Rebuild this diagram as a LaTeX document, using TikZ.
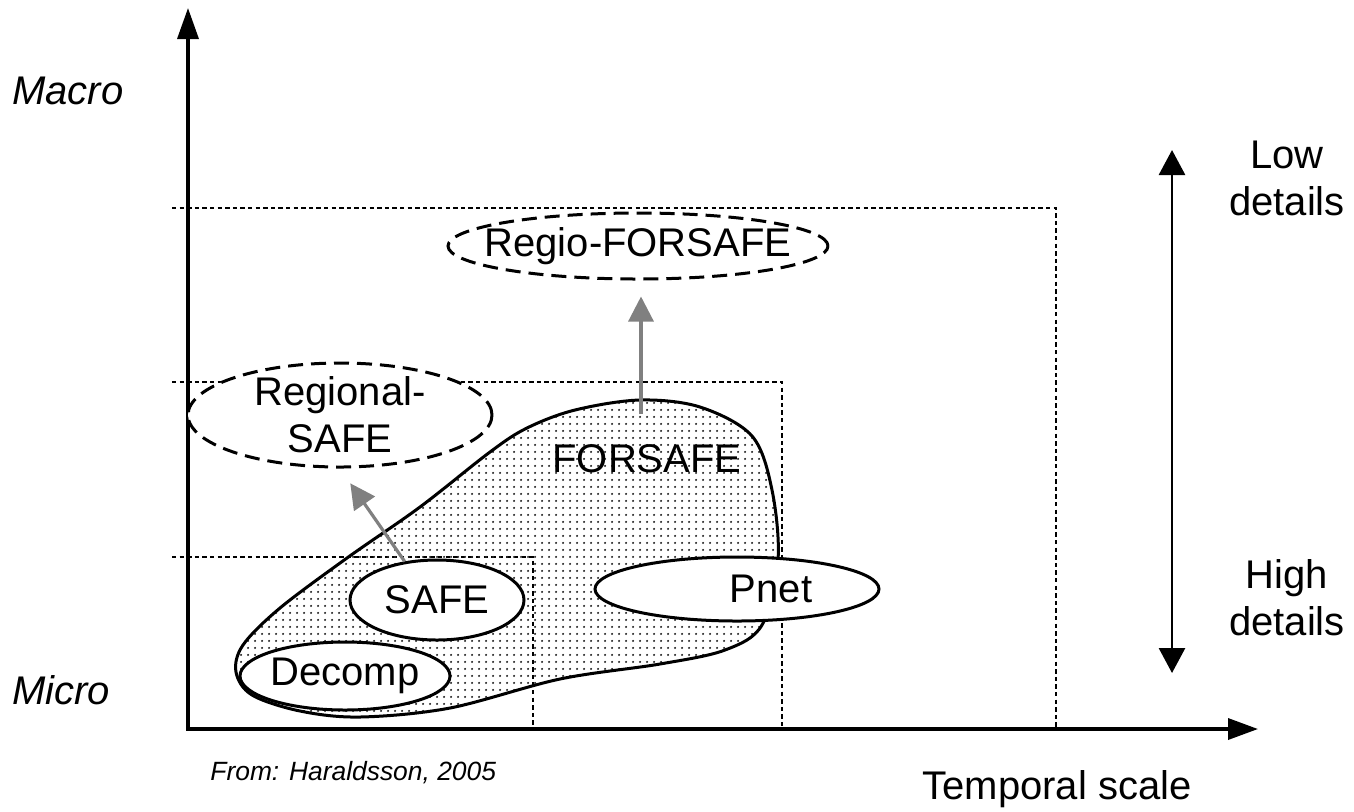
\documentclass[tikz,border=0pt]{standalone}
\usepackage{fontspec}
\setmainfont{Liberation Sans}
\usetikzlibrary{shapes.geometric,arrows.meta,patterns}

% fine dot raster used for the FORSAFE domain
\pgfdeclarepatternformonly{blobdots}{\pgfqpoint{0pt}{0pt}}{\pgfqpoint{3.5pt}{3.5pt}}{\pgfqpoint{3.5pt}{3.5pt}}%
  {\pgfpathcircle{\pgfqpoint{1.75pt}{1.75pt}}{0.65pt}\pgfusepath{fill}}

\definecolor{liftgray}{RGB}{128,128,128}

\begin{document}
\begin{tikzpicture}[x=0.5pt,y=-0.5pt,
  lbl/.style={font=\fontsize{20}{23.5}\selectfont, inner sep=0pt, align=center},
  ital/.style={font=\fontsize{20}{23.5}\selectfont\itshape, inner sep=0pt},
  note/.style={font=\fontsize{13.2}{15}\selectfont\itshape, inner sep=0pt},
  axis/.style={line width=1.75pt,
    {Triangle[length=15.5pt,width=10.5pt]}-{Triangle[length=15pt,width=10.5pt]}},
  scalearrow/.style={line width=1.4pt,
    {Triangle[length=12.5pt,width=13pt]}-{Triangle[length=12.5pt,width=13pt]}},
  zone/.style={line width=1.4pt, dash pattern=on 2.2pt off 1.6pt},
  model/.style={ellipse, draw, line width=1.5pt, fill=white, inner sep=0pt},
  planned/.style={model, dash pattern=on 7.5pt off 4pt},
  lift/.style={draw=liftgray, line width=1.6pt,
    -{Triangle[length=12.5pt,width=12.5pt]}},
]
\useasboundingbox (0,0) rectangle (1354,811);

% nested scale zones
\draw[zone] (172,557) -| (533,729);
\draw[zone] (172,382) -| (782,729);
\draw[zone] (172,208) -| (1056,729);

% FORSAFE domain
\path[draw, line width=1.5pt, pattern=blobdots, pattern color=black!85]
  plot[smooth cycle, tension=0.55] coordinates {
    (778,560) (772,490) (752,436) (700,407) (640,400) (575,410) (527,428)
    (490,452) (420,507) (347,558) (280,608) (243,645) (236,672) (252,695)
    (300,711) (360,717) (450,708) (560,679) (660,664) (725,650) (762,625)};
\node[lbl] (forsafe) at (647,459) {FORSAFE};

% axes
\coordinate (ytop) at (188,8);
\coordinate (origin) at (188,729);
\coordinate (xend) at (1258,729);
\draw[axis] (ytop) -- (origin) -- (xend);

% models
\node[planned, minimum width=190pt, minimum height=33pt,
  label={[lbl]center:Regio-FORSAFE}] (regio) at (638,246) {};
\node[planned, minimum width=152pt, minimum height=52pt,
  label={[lbl]center:{Regional-\\SAFE}}] (regional) at (340,415) {};
\node[model, minimum width=87pt, minimum height=40pt,
  label={[lbl]center:SAFE}] (safe) at (437,600) {};
\node[model, minimum width=105pt, minimum height=34pt,
  label={[lbl]center:Decomp}] (decomp) at (345,676) {};
\node[model, minimum width=142pt, minimum height=32pt,
  label={[lbl, xshift=17pt]center:Pnet}] (pnet) at (737,589) {};

% upscaling arrows
\coordinate (fsTail) at (641,414);
\draw[lift, shorten >=9pt] (safe.130) -- (regional.south);
\draw[lift, shorten >=8pt] (fsTail) -- ([xshift=1.5pt]regio.south);

% axis labels
\node[ital, anchor=base west] (macro) at (12,104) {Macro};
\node[ital, anchor=base west] (micro) at (12,704) {Micro};
\node[note, anchor=base west] (src) at (210,780) {From: Haraldsson, 2005};
\node[lbl, anchor=base] (tscale) at (1057,799) {Temporal scale};

% level of detail
\coordinate (coarse) at (1172,150);
\coordinate (fine) at (1172,673);
\draw[scalearrow] (fine) -- (coarse);
\node[lbl] (low) at (1287,178) {Low\\details};
\node[lbl] (high) at (1287,598) {High\\details};
\end{tikzpicture}
\end{document}
